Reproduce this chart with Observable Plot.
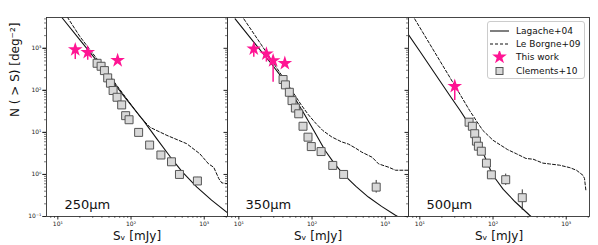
<!DOCTYPE html>
<html>
<head>
<meta charset="utf-8">
<script src="https://cdn.jsdelivr.net/npm/d3@7"></script>
<script src="https://cdn.jsdelivr.net/npm/@observablehq/plot@0.6"></script>
<style>
  body { margin: 0; background: white; font-family: "DejaVu Sans", sans-serif; }
  #wrap { position: relative; width: 598px; height: 245px; }
  #legend { position: absolute; left: 487px; top: 21px; width: 96px; height: 56px;
    border: 1px solid #cccccc; border-radius: 3px; background: rgba(255,255,255,0.85);
    font-size: 9px; color: #111; }
  .row { position: absolute; left: 0; height: 12px; display: flex; align-items: center; }
  .row svg { margin-left: 2px; }
  .row span { position: absolute; left: 28px; white-space: nowrap; }
</style>
</head>
<body>
<div id="wrap"></div>
<script>
const bands = ["250µm", "350µm", "500µm"];
const xMajor = [10, 100, 1000];
const xMinor = [8, 9, 20, 30, 40, 50, 60, 70, 80, 90, 200, 300, 400, 500, 600, 700, 800, 900, 2000];
const yMajor = [0.1, 1, 10, 100, 1000];
const yMinor = [0.2,0.3,0.4,0.5,0.6,0.7,0.8,0.9,2,3,4,5,6,7,8,9,20,30,40,50,60,70,80,90,200,300,400,500,600,700,800,900,2000,3000,4000,5000];

// Lagache+04 model (solid)
const lagache250S = [11.5, 20, 39.8, 79.4, 148, 224, 343, 501, 794, 1259, 2042];
const lagache250N = [5250, 1585, 363, 74, 19, 7.1, 2.63, 1.15, 0.50, 0.245, 0.126];
const lagache350S = [8.9, 15.8, 28.2, 39.8, 56.2, 79.4, 112, 151, 200, 269, 398, 589, 891, 1380, 1480];
const lagache350N = [5000, 1445, 417, 190, 72, 26.3, 9.3, 3.7, 1.86, 1.0, 0.52, 0.29, 0.174, 0.107, 0.1];
const lagache500S = [6.9, 10, 15.8, 25.1, 35.5, 43.7, 56.2, 70.8, 85.1, 97.7, 115, 138, 200, 316, 331];
const lagache500N = [2190, 851, 263, 79.4, 33.1, 19.1, 8.3, 3.7, 1.78, 1.0, 0.68, 0.44, 0.224, 0.107, 0.1];

// Le Borgne+09 model (dashed)
const leborgne250S = [13.5, 20, 39.8, 79.4, 135, 182, 309, 575, 871, 1148, 1349, 1585, 1738, 2138];
const leborgne250N = [5500, 1905, 398, 79, 22.9, 13.2, 8.5, 5.4, 3.1, 1.78, 1.48, 0.79, 0.63, 0.60];
const leborgne350S = [11.7, 20, 31.6, 50.1, 70.8, 89.1, 112, 141, 186, 251, 316, 398, 479, 661, 813, 1122, 1380, 2188];
const leborgne350N = [5000, 1259, 380, 115, 45.7, 26.3, 16.6, 11, 7.8, 6.0, 5.25, 4.17, 3.39, 2.57, 1.78, 1.48, 1.26, 1.26];
const leborgne500S = [8.5, 15.8, 31.6, 47.9, 58.9, 72.4, 100, 158, 209, 282, 355, 479, 589, 813, 1122, 1380, 1698, 1778, 1862];
const leborgne500N = [5000, 832, 112, 33.1, 19.1, 11.2, 6.5, 3.9, 3.1, 2.4, 2.3, 1.86, 1.78, 1.66, 1.45, 1.26, 0.95, 0.8, 0.40];

// This work (stars) with lower error bar ends
const star250S = [17.3, 25.6, 65.6];
const star250N = [930, 800, 515];
const star250Lo = [540, 520, 515];
const star350S = [16.0, 23.8, 29.4, 42.5];
const star350N = [970, 736, 510, 440];
const star350Lo = [610, 470, 155, 440];
const star500S = [30.0];
const star500N = [125];
const star500Lo = [57];

// Clements+10 (squares)
const clem250S = [34.4, 39, 43.3, 48, 52.3, 56.9, 64.4, 74.5, 84.4, 94, 127, 179.5, 256, 357, 459, 807];
const clem250N = [440, 374, 295, 198, 148, 99, 68.5, 45, 25, 20, 10, 5, 2.9, 2.0, 1.0, 0.7];
const clem350S = [40.2, 43.3, 49, 53.3, 59.2, 65.8, 75.3, 88.1, 97.7, 133, 192, 270, 753];
const clem350N = [181, 135, 90, 57, 38, 27.7, 14, 7.7, 4.6, 3.5, 1.64, 1.0, 0.5];
const clem500S = [47.1, 52.2, 56.2, 59.3, 63.1, 69.2, 81.3, 95, 149, 251];
const clem500N = [17.5, 14, 9.3, 6.2, 4.7, 3.57, 1.86, 0.98, 0.75, 0.28];
// visible Clements error bars
const clemErr250S = [459, 807];
const clemErr250Lo = [0.78, 0.56];
const clemErr250Hi = [1.2, 0.85];
const clemErr350S = [270, 753];
const clemErr350Lo = [0.78, 0.36];
const clemErr350Hi = [1.2, 0.72];
const clemErr500S = [95, 149, 251];
const clemErr500Lo = [0.76, 0.55, 0.14];
const clemErr500Hi = [1.2, 1.02, 0.43];

const rows = (band, S, N) => S.map((s, i) => ({band, S: s, N: N[i]}));
const lagache = [...rows(bands[0], lagache250S, lagache250N), ...rows(bands[1], lagache350S, lagache350N), ...rows(bands[2], lagache500S, lagache500N)];
const leborgne = [...rows(bands[0], leborgne250S, leborgne250N), ...rows(bands[1], leborgne350S, leborgne350N), ...rows(bands[2], leborgne500S, leborgne500N)];
const starRows = (band, S, N, Lo) => S.map((s, i) => ({band, S: s, N: N[i], lo: Lo[i]}));
const stars = [...starRows(bands[0], star250S, star250N, star250Lo), ...starRows(bands[1], star350S, star350N, star350Lo), ...starRows(bands[2], star500S, star500N, star500Lo)];
const clem = [...rows(bands[0], clem250S, clem250N), ...rows(bands[1], clem350S, clem350N), ...rows(bands[2], clem500S, clem500N)];
const errRows = (band, S, Lo, Hi) => S.map((s, i) => ({band, S: s, lo: Lo[i], hi: Hi[i]}));
const clemErr = [...errRows(bands[0], clemErr250S, clemErr250Lo, clemErr250Hi), ...errRows(bands[1], clemErr350S, clemErr350Lo, clemErr350Hi), ...errRows(bands[2], clemErr500S, clemErr500Lo, clemErr500Hi)];

const supMap = {"-": "⁻", "0": "⁰", "1": "¹", "2": "²", "3": "³", "4": "⁴", "5": "⁵", "6": "⁶", "7": "⁷", "8": "⁸", "9": "⁹"};
const fmt = d => "10" + String(Math.round(Math.log10(d))).split("").map(c => supMap[c]).join("");
const pink = "#ff1493";
const starR = 4.6;

const chart = Plot.plot({
  width: 598,
  height: 245,
  marginLeft: 46,
  marginRight: 9,
  marginTop: 17,
  marginBottom: 29,
  style: {fontFamily: "DejaVu Sans", background: "white", color: "#222"},
  fx: {domain: bands, padding: 0, axis: null},
  x: {type: "log", domain: [7, 2080]},
  y: {type: "log", domain: [0.1, 5400]},
  marks: [
    Plot.line(lagache, {x: "S", y: "N", fx: "band", stroke: "#111", strokeWidth: 1.1, clip: true}),
    Plot.line(leborgne, {x: "S", y: "N", fx: "band", stroke: "#111", strokeWidth: 1, strokeDasharray: "3,2", clip: true}),
    Plot.ruleX(clemErr, {x: "S", y1: "lo", y2: "hi", fx: "band", stroke: "#333", strokeWidth: 1}),
    Plot.dot(clem, {x: "S", y: "N", fx: "band", symbol: "square", r: 4.5, fill: "#d8d8d8", stroke: "#555", strokeWidth: 1}),
    Plot.ruleX(stars, {x: "S", y1: "lo", y2: "N", fx: "band", stroke: pink, strokeWidth: 1.5}),
    Plot.dot(stars, {x: "S", y: "N", fx: "band", symbol: "star", r: starR, fill: pink, stroke: "none"}),
    Plot.frame({stroke: "#333", strokeWidth: 0.9}),
    Plot.axisX(xMajor, {tickSize: 3.5, tickPadding: 1.5, tickFormat: fmt, fontSize: 6, label: null}),
    Plot.axisX(xMinor, {tickSize: 2, tickFormat: () => "", label: null, strokeWidth: 0.6}),
    Plot.axisY(yMajor, {tickSize: 3.5, tickPadding: 1.5, tickFormat: fmt, fontSize: 6, label: null}),
    Plot.axisY(yMajor, {tickSize: 3.5, tickFormat: () => "", label: null, facetAnchor: null}),
    Plot.axisY(yMinor, {tickSize: 2, tickFormat: () => "", label: null, facetAnchor: null, strokeWidth: 0.6}),
    Plot.text(bands, {fx: d => d, text: d => d, frameAnchor: "bottom-left", dx: 18, dy: -8, fontSize: 13, fill: "#111"}),
    Plot.text(bands, {fx: d => d, text: () => "Sᵥ [mJy]", frameAnchor: "bottom", dy: 20, lineAnchor: "middle", fontSize: 12, fill: "#111"}),
    Plot.text(["N ( > S) [deg⁻²]"], {fx: () => bands[0], text: d => d, frameAnchor: "left", rotate: -90, dx: -31, fontSize: 12, fill: "#111"})
  ]
});

const wrap = document.getElementById("wrap");
wrap.appendChild(chart);

const legendItems = [
  {label: "Lagache+04", type: "solid"},
  {label: "Le Borgne+09", type: "dashed"},
  {label: "This work", type: "star"},
  {label: "Clements+10", type: "square"}
];
const legend = document.createElement("div");
legend.id = "legend";
legendItems.forEach((it, i) => {
  const row = document.createElement("div");
  row.className = "row";
  row.style.top = (3 + i * 13.2) + "px";
  let sw;
  if (it.type === "solid") sw = `<line x1="0" y1="6" x2="19" y2="6" stroke="#555" stroke-width="1.5"/>`;
  else if (it.type === "dashed") sw = `<line x1="0" y1="6" x2="19" y2="6" stroke="#111" stroke-width="1" stroke-dasharray="3,2"/>`;
  else if (it.type === "star") sw = `<path transform="translate(9.5,6)" d="${d3.symbol(d3.symbolStar, Math.PI * starR * starR)()}" fill="${pink}"/>`;
  else sw = `<rect x="6" y="2.5" width="7" height="7" fill="#d8d8d8" stroke="#555" stroke-width="1"/>`;
  row.innerHTML = `<svg width="19" height="12">${sw}</svg><span>${it.label}</span>`;
  legend.appendChild(row);
});
wrap.appendChild(legend);
</script>
</body>
</html>
